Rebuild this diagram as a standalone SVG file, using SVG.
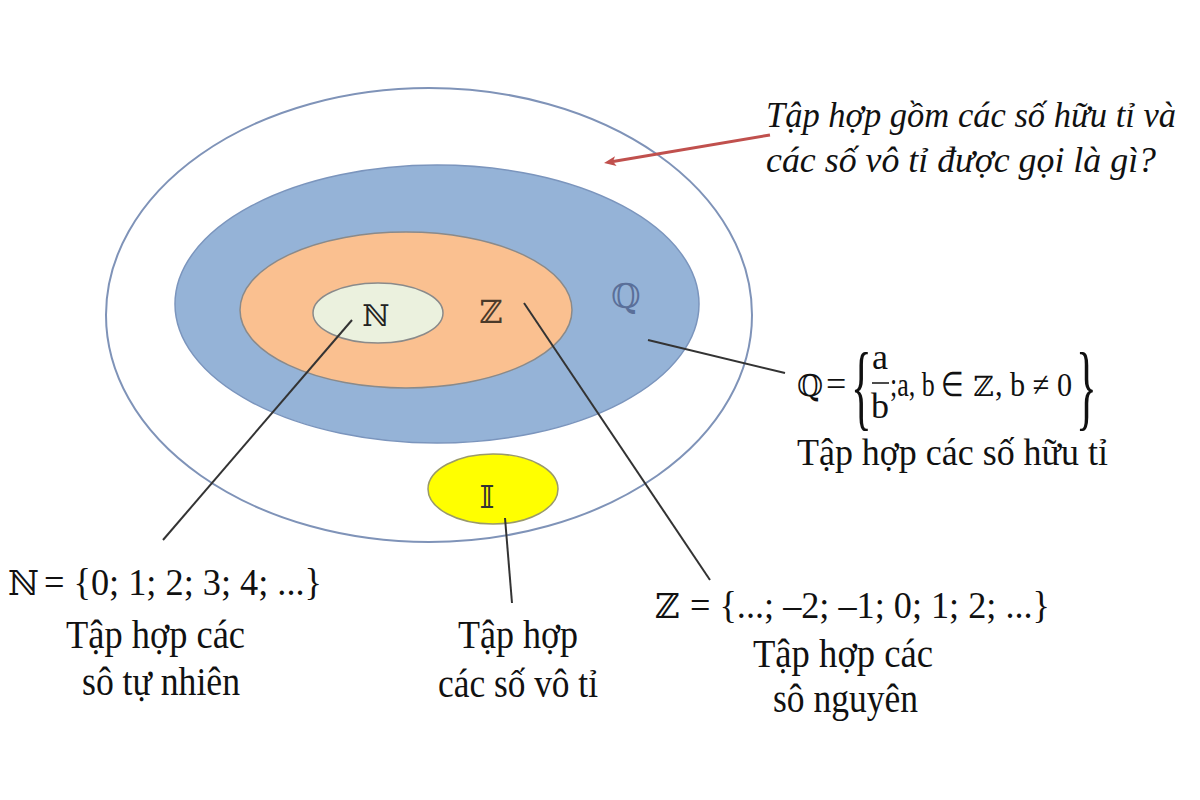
<svg xmlns="http://www.w3.org/2000/svg" width="1200" height="800" viewBox="0 0 1200 800">
<rect width="1200" height="800" fill="#fff"/>
<g id="outer"><ellipse cx="429" cy="315" rx="323" ry="227" fill="#fff" stroke="#7f93b8" stroke-width="2"/></g>
<g id="Q"><ellipse cx="437" cy="304" rx="262" ry="139" fill="#95b3d7" stroke="#7b95bd" stroke-width="1.5"/>
<text x="626" y="308" font-family="DejaVu Serif" font-size="34" text-anchor="middle" fill="#5a6f99">ℚ</text></g>
<g id="Z"><ellipse cx="406" cy="310" rx="166" ry="78" fill="#fac090" stroke="#8a8a8a" stroke-width="1.5"/>
<text x="491" y="323" font-family="DejaVu Serif" font-size="32" text-anchor="middle" fill="#4a3a2a">ℤ</text></g>
<g id="N"><ellipse cx="378" cy="313" rx="65" ry="30" fill="#ebf1de" stroke="#8a8a8a" stroke-width="1.5"/>
<text x="376" y="326" font-family="DejaVu Serif" font-size="30" text-anchor="middle" fill="#222">ℕ</text></g>
<g id="I"><ellipse cx="493" cy="489" rx="65" ry="35" fill="#ffff00" stroke="#9a9a6a" stroke-width="1.5"/>
<text x="487" y="508" font-family="DejaVu Serif" font-size="32" text-anchor="middle" fill="#333">𝕀</text></g>
<g id="connectors" stroke="#333" stroke-width="2" fill="none">
<line x1="352" y1="320" x2="163" y2="540"/>
<line x1="524" y1="303" x2="710" y2="580"/>
<line x1="648" y1="340" x2="785" y2="373"/>
<line x1="505" y1="518" x2="512" y2="603"/>
<line x1="770" y1="135" x2="613" y2="161.5" stroke="#c0504d" stroke-width="3"/>
<path d="M604,163 L616.6,166 L613,161.5 L615,156.2 Z" fill="#c0504d" stroke="none"/>
</g>
<g id="question" fill="#111">
<text font-family="Liberation Serif" font-style="italic" font-size="36" x="766" y="127" textLength="410" lengthAdjust="spacingAndGlyphs">Tập hợp gồm các số hữu tỉ và</text>
<text font-family="Liberation Serif" font-style="italic" font-size="36" x="766" y="172" textLength="390" lengthAdjust="spacingAndGlyphs">các số vô tỉ được gọi là gì?</text>
</g>
<g id="Qlabel" fill="#111">
<text font-family="DejaVu Serif" x="797" y="396" font-size="30">ℚ</text>
<text font-family="Liberation Serif" font-size="36" x="826" y="396">=</text>
<text font-family="Liberation Serif" x="851" y="418" font-size="96" transform="translate(851,0) scale(0.45,1) translate(-851,0)">{</text>
<text font-family="Liberation Serif" font-size="36" x="880" y="369" text-anchor="middle">a</text>
<line x1="872" y1="383" x2="889" y2="383" stroke="#111" stroke-width="1.5"/>
<text font-family="Liberation Serif" font-size="36" x="880" y="418" text-anchor="middle">b</text>
<text font-family="Liberation Serif" font-size="34" x="890" y="396" textLength="74" lengthAdjust="spacingAndGlyphs">;a, b ∈</text>
<text font-family="DejaVu Serif" font-size="28" x="973" y="396">ℤ</text>
<text font-family="Liberation Serif" font-size="34" x="995" y="396" textLength="77" lengthAdjust="spacingAndGlyphs">, b ≠ 0</text>
<text font-family="Liberation Serif" x="1076" y="418" font-size="96" transform="translate(1076,0) scale(0.45,1) translate(-1076,0)">}</text>
<text font-family="Liberation Serif" x="797" y="465" font-size="38" textLength="311" lengthAdjust="spacingAndGlyphs">Tập hợp các số hữu tỉ</text>
</g>
<g id="Nlabel" fill="#111">
<text font-family="DejaVu Serif" font-size="34" x="8" y="595">ℕ</text>
<text font-family="Liberation Serif" font-size="38" x="44" y="595" textLength="278" lengthAdjust="spacingAndGlyphs">= {0; 1; 2; 3; 4; ...}</text>
<text font-family="Liberation Serif" font-size="40" x="66" y="648" textLength="179" lengthAdjust="spacingAndGlyphs">Tập hợp các</text>
<text font-family="Liberation Serif" font-size="40" x="82" y="695" textLength="158" lengthAdjust="spacingAndGlyphs">sô tự nhiên</text>
</g>
<g id="Zlabel" fill="#111">
<text font-family="DejaVu Serif" font-size="34" x="655" y="618">ℤ</text>
<text font-family="Liberation Serif" font-size="38" x="690" y="618" textLength="360" lengthAdjust="spacingAndGlyphs">= {...; –2; –1; 0; 1; 2; ...}</text>
<text font-family="Liberation Serif" font-size="40" x="753" y="667" textLength="180" lengthAdjust="spacingAndGlyphs">Tập hợp các</text>
<text font-family="Liberation Serif" font-size="40" x="773" y="712" textLength="145" lengthAdjust="spacingAndGlyphs">sô nguyên</text>
</g>
<g id="Ilabel" fill="#111">
<text font-family="Liberation Serif" font-size="40" x="458" y="648" textLength="120" lengthAdjust="spacingAndGlyphs">Tập hợp</text>
<text font-family="Liberation Serif" font-size="40" x="438" y="697" textLength="160" lengthAdjust="spacingAndGlyphs">các số vô tỉ</text>
</g>
</svg>
